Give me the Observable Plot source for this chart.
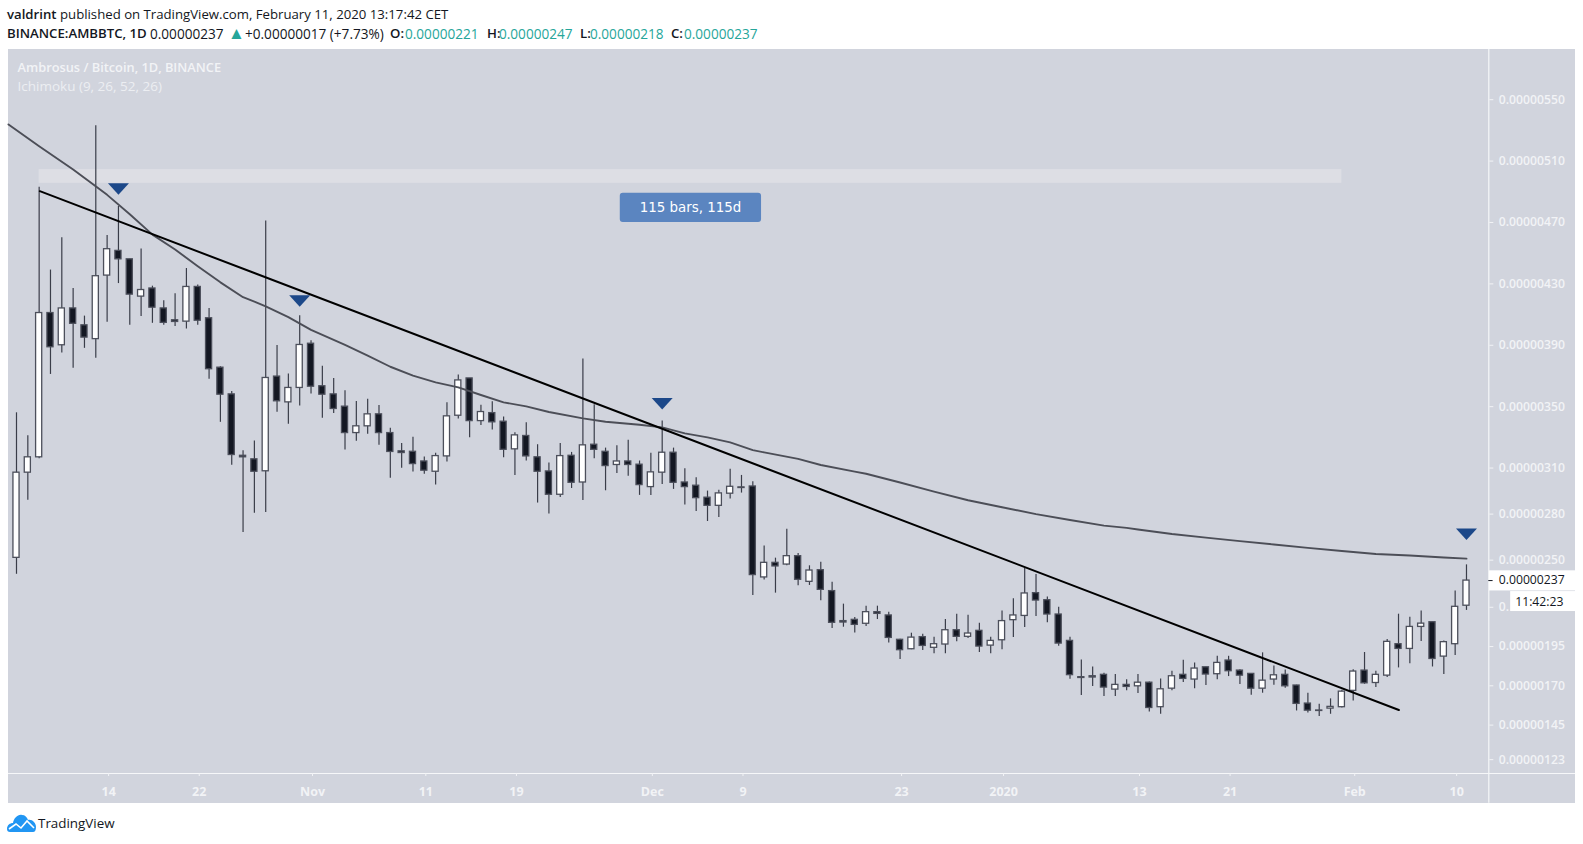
<!DOCTYPE html>
<html>
<head>
<meta charset="utf-8">
<script src="https://cdn.jsdelivr.net/npm/d3@7"></script>
<script src="https://cdn.jsdelivr.net/npm/@observablehq/plot@0.6"></script>
<style>
html,body{margin:0;padding:0;background:#fff;overflow:hidden}
body{font-family:"Open Sans",sans-serif;color:#131722;width:1583px;height:844px;position:relative}
#head{height:49px;box-sizing:border-box;padding:5px 0 0 7px;font-size:13.2px;line-height:19px;white-space:nowrap}
#head b{font-weight:600}
#head .v{color:#26a69a}
#line2{position:relative;height:19px;margin-left:-7px;font-size:13.6px}
#line2 span,#line2 b{position:absolute;top:0}
#line2 b{font-size:13.2px}
#line2 .tri{font-size:17px;top:-1px}
#chart{margin-left:8px;height:754px}
#chart svg{display:block;max-width:none}
#foot{position:absolute;left:7px;top:813px;height:20px;display:flex;align-items:center;font-size:13.4px;color:#131722}
</style>
</head>
<body>
<div id="head">
<div><b>valdrint</b> published on TradingView.com, February 11, 2020 13:17:42 CET</div>
<div id="line2"><b style="left:7px">BINANCE:AMBBTC, 1D</b><span style="left:150px">0.00000237</span><span class="v tri" style="left:228px">▲</span><span style="left:245px">+0.00000017 (+7.73%)</span><b style="left:390px">O:</b><span class="v" style="left:405px">0.00000221</span><b style="left:487px">H:</b><span class="v" style="left:499px">0.00000247</span><b style="left:580px">L:</b><span class="v" style="left:590px">0.00000218</span><b style="left:671px">C:</b><span class="v" style="left:684px">0.00000237</span></div>
</div>
<div id="chart"></div>
<div id="foot"><svg width="30" height="18" viewBox="0 0 30 18" style="margin-right:1px"><path d="M0 15 C0 11 3 9 6 9 C7 4 11 0 15 1 C18 1 20 3 21 6 C25 5 29 9 29 13 C29 16 28 18 26 18 L3 18 C1 18 0 17 0 15Z" fill="#2196f3"/><path d="M2 15 L9 10 L14 14 L20 7 L27 14" fill="none" stroke="#fff" stroke-width="1.6"/></svg><span>TradingView</span></div>
<script>
// Prices in satoshi (1e-8 BTC), one candle per day from 2019-10-06
const opens = [251.5,307,317,411,390,414,403,394,435.4,451.5,446,421.7,427,414,406.3,405.4,428,407.6,375.4,358,318,315.7,307.9,369.6,352.8,362.2,391,363.3,358,350,332.8,337.2,345,332.8,320.9,320.6,314.3,307.6,317.6,344.1,368.4,340.6,345.8,340.2,322.2,330.9,317,307.8,292.6,318,300.6,325.2,320.6,312,314.3,312.2,297.6,307,320,300.6,298.5,290.7,285.4,293.3,297.4,298,239,248.3,247.2,252.6,236.2,243.6,230.3,211.2,212,209.5,216.9,214.8,199.3,193.3,201,194.2,196.3,205.4,201.2,205,195.6,199,211.8,214.5,229,224.5,215.4,198.6,175.5,176.1,177,167.6,170.6,169.7,172,156.4,168.2,177,174,181.8,177.4,186.1,179.7,177.6,168.2,174,177,170.2,158.7,154.3,155.5,156.4,166.8,179.7,171.8,176.5,196.5,193.5,207.5,210.5,188.6,196.5,221];
const closes = [307,317,411,388.7,414,404,395,435,452.6,446,423,426,414.5,404.6,405.2,428,406,374.4,357.8,318.5,317,307.6,368.7,353.5,362.2,390.2,363,357.8,348.5,332.8,337.2,345,332.8,320.5,319.8,312.6,308.3,317.8,343.7,367.1,340.6,346.5,339.8,321.9,331.3,317.6,307.6,292.6,317.8,300.4,324.8,321.9,311.3,314.3,312,298.9,307.2,320,300.4,297.6,290.4,285.4,293.5,297.8,297,240.5,248.3,246,252.6,237.5,243.4,231.1,210.1,210.3,208.8,216.9,215.8,200.5,192.7,200.7,195.4,196.5,205.4,201.2,203.3,195,198.6,211.2,214.8,228.8,224.3,215.4,196.9,176.8,175,175.3,168.9,170.6,169.3,172,155.9,167.8,176.1,174.4,181,177.2,184.6,179.3,176.5,168.2,173.3,176.7,169.7,158.5,154.2,154,156.6,166.3,179.1,171.6,177,198,193.5,207.5,209.6,187.1,197.8,220.3,237];
const highs = [346,331,493,439,460,427,409,533,461.5,480.4,446,452.8,428.5,419,423.5,440,429.3,414,376,359.8,321.3,327.6,471,389.8,371.3,409.3,393,376.3,368.3,360.4,353.3,354.8,350.7,336,326,330,317.2,319.6,352.6,370.6,368.4,351,353.2,343.2,333,339.5,325.2,313.3,326,320.2,381,351.3,323,324.5,328.2,314.6,319.6,340.6,323,309.6,303.7,295,295.6,309.3,305.2,301,259.3,251.3,270.2,254.3,246.4,248.7,236,222,213.5,220.7,220.7,216.9,199.7,203.5,202.9,201,212.2,215.6,215,209.9,201,217.7,225.4,244.9,240.9,226.6,220,201,186.5,182,178,177.2,173.8,177.2,172.5,174.4,179.3,186.3,184.6,181.8,188.8,188.8,180.3,177.8,191,182.7,180.1,170.4,165.3,158.3,161.7,167.2,180.3,191.2,179.3,199.5,215.6,213.7,217.7,210.5,198.6,230.4,247];
const lows = [241,289,316,371,385,375,388,381.5,405,430.2,403,408.7,404.3,403,402.2,400.6,403,367.8,339.8,311.8,268,280.5,281,346.3,338.5,350.5,358.3,342.4,345.5,321.8,327.4,332,324.8,303.3,309.8,307.4,305.9,299,313.9,341.9,329.8,337.8,334.8,316.7,305.2,314.6,287.2,280,290.9,296.7,288.9,316,295.2,306.5,304.6,292.2,292.2,299.3,296.1,285.9,281.7,275.2,277.8,289.8,293.7,227.5,237.3,229,246.4,233.7,233.9,224.1,206.5,207.3,203.7,207.8,212.2,197.3,186.7,193,192.5,190.4,190.4,198,200.1,191.2,190.4,192.9,200.7,207.1,214.1,210.1,195.2,174.2,163.8,169.5,163.2,163.2,166.8,165.1,153.4,151.9,166.8,172.1,168.2,170.2,173.8,175.9,170.8,164,165.3,170.4,168.4,154,152.7,150.4,151.9,155.9,160.4,171,168.9,175.3,181.4,184,198.2,182,177.2,189.3,218];
// Moving average read at selected candles (index, value)
const maIndex = [0.294,3,6,9,11,13,15,17,19,21,22,23,25,27,30,32,34,36,38,40,42,44,46,48,51,53,56,58,60,62,64,66,67,70,72,75,76,79,82,85,88,91,94,97,99,100,103,106,109,112,115,118,121,124,127,129];
const maValue = [533.9,519.7,504.5,488,475.4,462.1,452.4,441.5,431,421.3,418.5,415.4,408.3,400,390.2,383.3,376,370.2,365.8,362.6,357.6,352.8,350.2,346.5,342.4,340.2,338.2,336.5,332.6,330,326.7,321.7,320.2,316,312,307.7,306.3,300.6,294.7,289,284.5,280,276.2,272.5,271,270,267,264.7,262.4,260.2,258,256,254,253,251.7,251];
const trendIndex = [3.06,88.4,123.03];
const trendValue = [490.4,250,154.6];
const markerIndex = [10,26,58,129];
const markerValue = [492,419,352,267];
const yTicks = [550,510,470,430,390,350,310,280,250,220,195,170,145,123];
const xTickDates = ["2019-10-14","2019-10-22","2019-11-01","2019-11-11","2019-11-19","2019-12-01","2019-12-09","2019-12-23","2020-01-01","2020-01-13","2020-01-21","2020-02-01","2020-02-10"];
const xTickLabels = ["14","22","Nov","11","19","Dec","9","23","2020","13","21","Feb","10"];

const start = Date.UTC(2019,9,6);
const dayAt = i => new Date(start + (i-1)*864e5);
const candles = opens.map((o,k)=>({i:k+1,date:dayAt(k+1),o,c:closes[k],h:highs[k],l:lows[k]}));
const ma = maIndex.map((i,k)=>({date:dayAt(i),v:maValue[k]}));
const trend = trendIndex.map((i,k)=>({date:dayAt(i),v:trendValue[k]}));
const markers = markerIndex.map((i,k)=>({date:dayAt(i),v:markerValue[k]}));
const tickDates = xTickDates.map(d=>new Date(d+"T00:00Z"));
const labelOf = new Map(tickDates.map((d,k)=>[+d,xTickLabels[k]]));
const invTri = {draw(ctx){ctx.moveTo(-10.5,-5.5);ctx.lineTo(10.5,-5.5);ctx.lineTo(0,6);ctx.closePath();}};
const axisEnd = 130.97, panelEnd = 138.63;
const bodyHalf = 0.27;
const WHITE = "#f2f3f6";
const AXF = '"Open Sans",sans-serif';
// The chart's price axis is slightly steeper below 250
const warp = v => v >= 250 ? v : 250 - (250 - v) * 1.0235;

const plot = Plot.plot({
  width:1567,height:754,marginLeft:0,marginRight:86.7,marginTop:0,marginBottom:30,
  style:{background:"#d1d4dd",fontFamily:AXF,overflow:"visible"},
  x:{type:"utc",domain:[dayAt(0.294),dayAt(axisEnd)],label:null},
  y:{transform:warp,domain:[111,582.7],label:null},
  marks:[
    Plot.rect([{}],{x1:()=>dayAt(3),x2:()=>dayAt(118),y1:()=>495.5,y2:()=>504.5,fill:"#dddee4"}),
    Plot.ruleX(candles,{x:"date",y1:"l",y2:"h",stroke:"#3a3d49",strokeWidth:1.2}),
    Plot.rect(candles,{x1:d=>dayAt(d.i-bodyHalf),x2:d=>dayAt(d.i+bodyHalf),y1:"o",y2:"c",
      fill:d=>d.c>d.o?"#ffffff":"#131722",stroke:"#4c4f5b",strokeWidth:1.3}),
    Plot.line(ma,{x:"date",y:"v",stroke:"#4c4e57",strokeWidth:1.9}),
    Plot.line(trend,{x:"date",y:"v",stroke:"#000000",strokeWidth:2}),
    Plot.dot(markers,{x:"date",y:"v",symbol:invTri,r:5,fill:"#1c4889",stroke:"none"}),
    Plot.rect([{}],{x1:()=>dayAt(54.3),x2:()=>dayAt(66.77),y1:()=>470,y2:()=>489,fill:"#5b85c0",rx:3}),
    Plot.text(["115 bars, 115d"],{x:()=>dayAt(60.5),y:()=>479.5,fill:"#ffffff",fontSize:13.4,fontFamily:"DejaVu Sans"}),
    Plot.text(["Ambrosus / Bitcoin, 1D, BINANCE"],{frameAnchor:"top-left",dx:9,dy:13,fill:"#f2f3f6",fontSize:12.8,fontWeight:600,lineAnchor:"top"}),
    Plot.text(["Ichimoku (9, 26, 52, 26)"],{frameAnchor:"top-left",dx:9,dy:32,fill:"#eceef2",fontSize:13.5,lineAnchor:"top"}),
    Plot.ruleY([114.2],{x1:()=>dayAt(0.294),x2:()=>dayAt(panelEnd),stroke:"#f6f7f9",strokeWidth:1.2}),
    Plot.ruleX([dayAt(axisEnd)],{y1:582.7,y2:95.3,stroke:"#f6f7f9",strokeWidth:1.2}),
    Plot.axisY(yTicks,{anchor:"right",tickSize:4,tickPadding:6,color:WHITE,fontSize:12.2,fontWeight:600,tickFormat:d=>d===220?"0.":(d/1e8).toFixed(8),label:null}),
    Plot.axisX(tickDates,{anchor:"bottom",tickSize:3,tickPadding:11,color:WHITE,fontSize:12.5,fontWeight:700,dx:1.5,tickFormat:d=>labelOf.get(+d),label:null}),
    Plot.rect([{}],{x1:()=>dayAt(axisEnd+0.05),x2:()=>dayAt(panelEnd),y1:()=>230.4,y2:()=>243.2,fill:"#ffffff"}),
    Plot.ruleY([237],{x1:()=>dayAt(axisEnd),x2:()=>dayAt(axisEnd+0.38),stroke:"#131722"}),
    Plot.text(["0.00000237"],{x:()=>dayAt(131.85),y:()=>237,fill:"#131722",fontSize:12.2,textAnchor:"start"}),
    Plot.rect([{}],{x1:()=>dayAt(132.9),x2:()=>dayAt(panelEnd),y1:()=>217.3,y2:()=>230,fill:"#ffffff"}),
    Plot.text(["11:42:23"],{x:()=>dayAt(133.3),y:()=>223.6,fill:"#131722",fontSize:12.2,textAnchor:"start"})
  ]
});
document.getElementById("chart").appendChild(plot);
</script>
</body>
</html>
